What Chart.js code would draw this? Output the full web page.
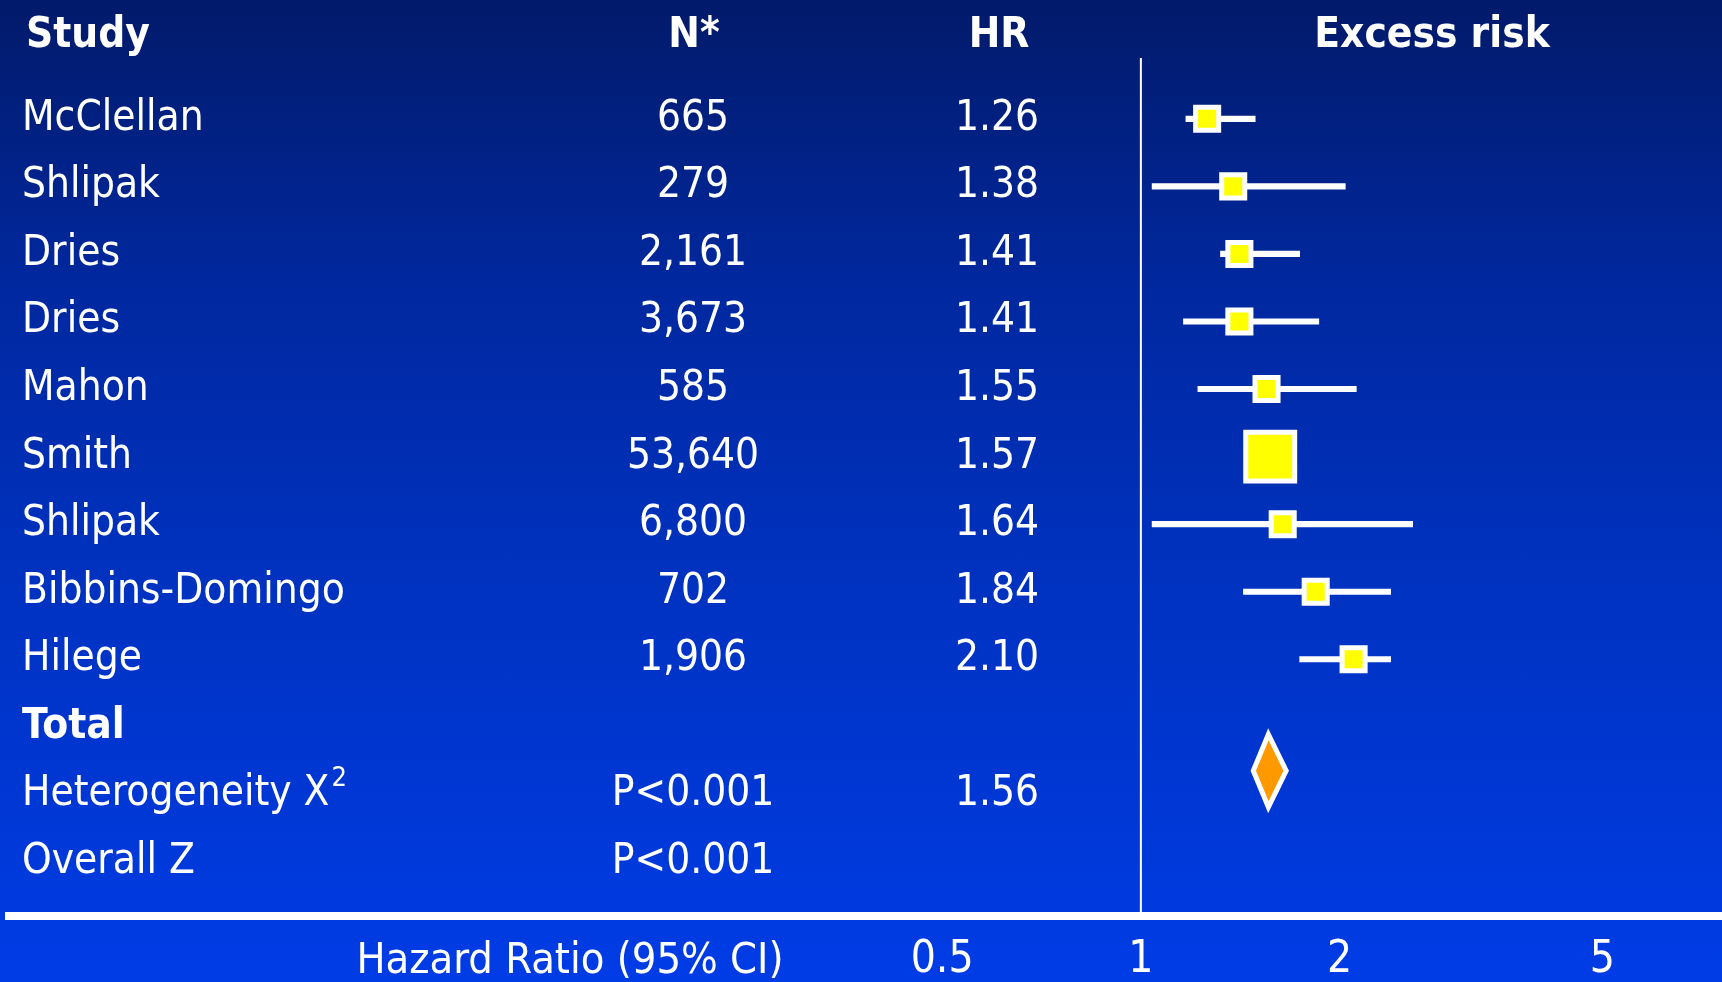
<!DOCTYPE html>
<html>
<head>
<meta charset="utf-8">
<script src="https://cdn.jsdelivr.net/npm/chart.js@4.4.0/dist/chart.umd.min.js"></script>
<style>
  html, body { margin: 0; padding: 0; }
  #wrap {
    width: 1722px;
    height: 982px;
    background: linear-gradient(to bottom, #021a6a 0%, #0028a0 30%, #0031bc 55%, #003ce6 100%);
  }
</style>
</head>
<body>
<div id="wrap"><canvas id="forest" width="1722" height="982"></canvas></div>
<script>
const studies = ["McClellan", "Shlipak", "Dries", "Dries", "Mahon", "Smith", "Shlipak", "Bibbins-Domingo", "Hilege"];
const sizes = ["665", "279", "2,161", "3,673", "585", "53,640", "6,800", "702", "1,906"];
const hr = [1.26, 1.38, 1.41, 1.41, 1.55, 1.57, 1.64, 1.84, 2.10];
const ciLow = [1.17, 1.04, 1.32, 1.16, 1.22, 1.50, 1.04, 1.43, 1.74];
const ciHigh = [1.49, 2.04, 1.74, 1.86, 2.12, 1.65, 2.58, 2.39, 2.39];

const pooledHr = 1.56;
const pooledLow = 1.48;
const pooledHigh = 1.66;
const summaryRows = ["Total", "Heterogeneity X", "Overall Z"];
const summaryP = ["", "P<0.001", "P<0.001"];

const tickValues = [0.5, 1, 2, 5];

const FONT = '"DejaVu Sans Condensed", "DejaVu Sans", sans-serif';
const yMin = -0.9, yMax = 11.8;
const totalRow = studies.length;          // "Total" line sits right after the studies
const diamondRow = totalRow + 0.65;
const diamondHalf = 0.54;

// biggest study gets the big box
const nums = sizes.map(s => Number(s.replace(/,/g, "")));
const maxN = Math.max(...nums);

const tableText = {
    id: "tableText",
    afterDraw(chart) {
        const ctx = chart.ctx;
        const y = chart.scales.y;
        ctx.save();
        ctx.fillStyle = "#ffffff";
        ctx.textBaseline = "middle";

        // headings
        ctx.font = "bold 42px " + FONT;
        ctx.textAlign = "left";
        ctx.fillText("Study", 26, 36);
        ctx.textAlign = "center";
        ctx.fillText("N*", 694, 36);
        ctx.fillText("HR", 999, 36);
        ctx.fillText("Excess risk", 1432, 36);

        // study rows
        ctx.font = "42px " + FONT;
        studies.forEach(function (name, i) {
            const py = y.getPixelForValue(i);
            ctx.textAlign = "left";
            ctx.fillText(name, 22, py);
            ctx.textAlign = "center";
            ctx.fillText(sizes[i], 693, py);
            ctx.fillText(hr[i].toFixed(2), 997, py);
        });

        // summary rows
        summaryRows.forEach(function (label, k) {
            const py = y.getPixelForValue(totalRow + k);
            ctx.textAlign = "left";
            ctx.font = (k === 0 ? "bold " : "") + "42px " + FONT;
            ctx.fillText(label, 22, py);
            if (k === 1) {
                const w = ctx.measureText(label).width;
                ctx.font = "27px " + FONT;
                ctx.fillText("2", 22 + w + 2, py - 15);
                ctx.font = "42px " + FONT;
                ctx.textAlign = "center";
                ctx.fillText(pooledHr.toFixed(2), 997, py);
            }
            ctx.font = "42px " + FONT;
            ctx.textAlign = "center";
            if (summaryP[k]) ctx.fillText(summaryP[k], 693, py);
        });

        // axis caption
        ctx.font = "43px " + FONT;
        ctx.textAlign = "center";
        ctx.fillText("Hazard Ratio (95% CI)", 570, 962);
        ctx.restore();
    }
};

new Chart("forest", {
    type: "scatter",
    data: {
        datasets: [
            {
                // study estimates
                type: "scatter",
                data: hr.map((v, i) => ({ x: v, y: i })),
                pointStyle: "rect",
                pointRadius: ctx => nums[ctx.dataIndex] === maxN ? 34.6 : 16.3,
                backgroundColor: "#ffff00",
                borderColor: "#ffffff",
                borderWidth: 5,
                order: 0
            },
            {
                // pooled estimate diamond
                type: "line",
                data: [
                    { x: pooledHr, y: diamondRow - diamondHalf },
                    { x: pooledHigh, y: diamondRow },
                    { x: pooledHr, y: diamondRow + diamondHalf },
                    { x: pooledLow, y: diamondRow },
                    { x: pooledHr, y: diamondRow - diamondHalf },
                    { x: pooledHigh, y: diamondRow }
                ],
                borderColor: "#ffffff",
                borderWidth: 5,
                borderJoinStyle: "miter",
                backgroundColor: "#ff9900",
                fill: "shape",
                pointRadius: 0,
                tension: 0,
                order: 1
            },
            {
                // 95% CI bars
                type: "bar",
                indexAxis: "y",
                data: hr.map((v, i) => ({ x: [ciLow[i], ciHigh[i]], y: i })),
                backgroundColor: "#ffffff",
                borderWidth: 0,
                barThickness: 5.5,
                grouped: false,
                order: 2
            },
            {
                // line of no effect
                type: "line",
                data: [{ x: 1, y: yMin }, { x: 1, y: yMax }],
                borderColor: "#ffffff",
                borderWidth: 2,
                pointRadius: 0,
                order: 3
            }
        ]
    },
    options: {
        responsive: false,
        animation: false,
        events: [],
        layout: { autoPadding: false, padding: { left: 9, top: 58, right: 0, bottom: 0 } },
        plugins: {
            legend: { display: false },
            tooltip: { enabled: false }
        },
        scales: {
            x: {
                type: "logarithmic",
                min: 0.0193,
                max: 7.59,
                offset: false,
                grid: { display: false },
                border: { display: true, color: "#ffffff", width: 8 },
                afterFit: s => { s.height = 66; s.paddingLeft = 0; s.paddingRight = 0; },
                afterBuildTicks: s => { s.ticks = tickValues.map(v => ({ value: v })); },
                ticks: {
                    color: "#ffffff",
                    font: { family: FONT, size: 44 },
                    padding: 10,
                    autoSkip: false,
                    maxRotation: 0,
                    callback: v => String(v)
                }
            },
            y: {
                type: "linear",
                reverse: true,
                min: yMin,
                max: yMax,
                offset: false,
                display: false
            }
        }
    },
    plugins: [tableText]
});
</script>
</body>
</html>
